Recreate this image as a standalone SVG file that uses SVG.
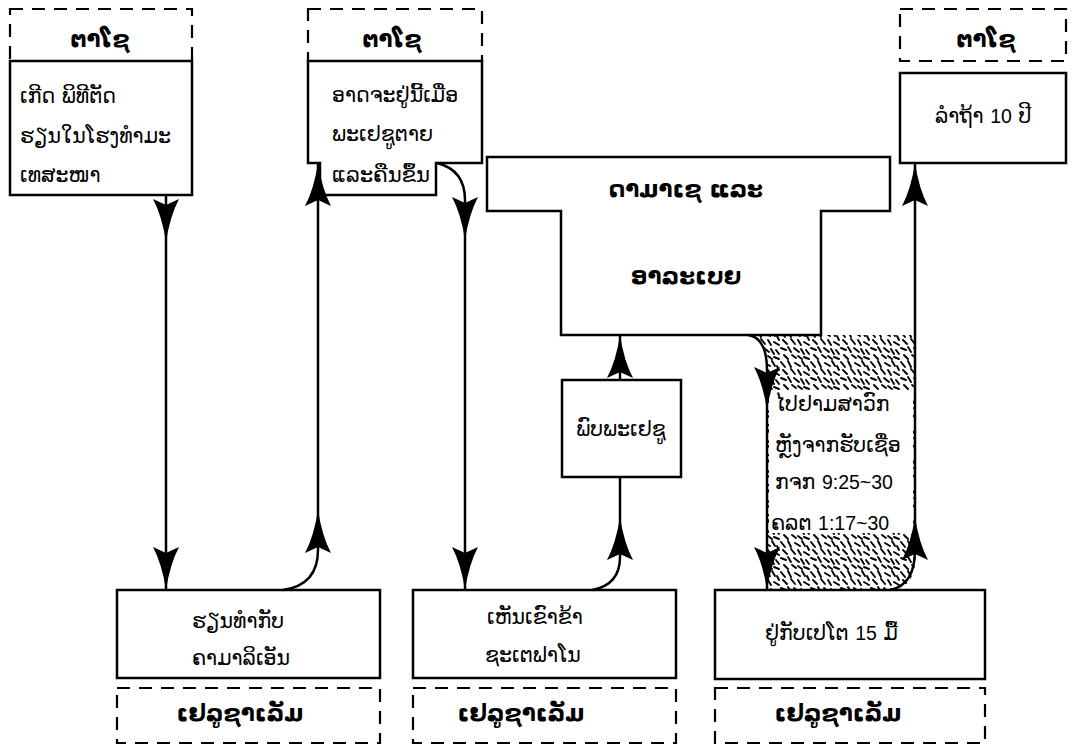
<svg xmlns="http://www.w3.org/2000/svg" xmlns:xlink="http://www.w3.org/1999/xlink" width="1072" height="750" viewBox="0 0 1072 750">
<style>
.box{fill:#fff;stroke:#000;stroke-width:2.5}
.dash{fill:#fff;stroke:#000;stroke-width:2.2;stroke-dasharray:13 9}
.t{font-family:"DejaVu Sans","Liberation Sans",sans-serif;font-size:20.5px;fill:#000}
.b{font-family:"DejaVu Sans","Liberation Sans",sans-serif;font-size:23px;font-weight:bold;fill:#000}
.d{font-family:"Liberation Sans",Arial,sans-serif;font-size:19.5px}
.m{text-anchor:middle}
.ln{fill:none;stroke:#000;stroke-width:2.5}
</style>
<defs>
<path id="ah" d="M0,0 Q-4,-26 -13,-43 L0,-37 L13,-43 Q4,-26 0,0 Z" fill="#000"/>
<pattern id="tex" width="30" height="30" patternUnits="userSpaceOnUse">
<path d="M1 2 l4 5 M8 1 l3 6 M15 3 l5 3 M22 1 l3 5 M27 6 l2 4 M3 10 l4 4 M11 9 l4 5 M18 10 l3 5 M24 12 l5 3 M1 18 l5 2 M8 17 l3 5 M14 18 l5 4 M21 19 l3 5 M26 20 l3 4 M4 25 l4 4 M12 25 l4 3 M18 26 l4 3 M24 27 l5 2" stroke="#000" stroke-width="1.9" fill="none" stroke-linecap="round"/>
</pattern>
</defs>
<rect width="1072" height="750" fill="#fff"/>

<g id="texture">
<path d="M748,335 Q767,337 767,365 L767,590 L890,590 Q915,588 915,560 L915,335 Z" fill="url(#tex)"/>
<rect x="769" y="390" width="144" height="143" fill="#fff"/>
</g>

<g id="node-taiso1">
<rect class="dash" x="10" y="9" width="182" height="52"/>
<text class="b m" x="100" y="47">ຕາໂຊ</text>
<rect class="box" x="10" y="61" width="182" height="134"/>
<text class="t" x="20" y="103">ເກີດ ພິທີຕັດ</text>
<text class="t" x="20" y="143">ຮຽນໃນໂຮງທຳມະ</text>
<text class="t" x="20" y="182">ເທສະໜາ</text>
</g>

<g id="node-taiso2">
<rect class="dash" x="308" y="9" width="174" height="52"/>
<text class="b m" x="392" y="47">ຕາໂຊ</text>
<polygon class="box" points="308,61 482,61 482,163 436,163 436,195 320,195 320,163 308,163"/>
<text class="t" x="332" y="102">ອາດຈະຢູ່ນີ້ເມື່ອ</text>
<text class="t" x="332" y="141">ພະເຢຊູຕາຍ</text>
<text class="t" x="332" y="182" textLength="98" lengthAdjust="spacingAndGlyphs">ແລະຄືນຂຶ້ນ</text>
</g>

<g id="node-taiso3">
<rect class="dash" x="900" y="9" width="166" height="52"/>
<text class="b m" x="986" y="47">ຕາໂຊ</text>
<rect class="box" x="900" y="73" width="166" height="90"/>
<text class="t" x="935" y="123">ລຳຖ້າ <tspan class="d">10</tspan> ປີ</text>
</g>

<g id="node-damascus">
<polygon class="box" points="487,157 890,157 890,211 821,211 821,335 561,335 561,211 487,211"/>
<text class="b m" x="686" y="197">ດາມາເຊ ແລະ</text>
<text class="b m" x="686" y="284">ອາລະເບຍ</text>
</g>

<g id="node-meet">
<rect class="box" x="562" y="380" width="119" height="97"/>
<text class="t m" x="621" y="436">ພົບພະເຢຊູ</text>
</g>

<g id="node-visit">
<text class="t" x="775" y="411">ໄປຢາມສາວົກ</text>
<text class="t" x="775" y="452">ຫຼັງຈາກຮັບເຊື່ອ</text>
<text class="t" x="775" y="489">ກຈກ <tspan class="d">9:25~30</tspan></text>
<text class="t" x="771" y="530">ຄລຕ <tspan class="d">1:17~30</tspan></text>
</g>

<g id="node-jer1">
<rect class="box" x="117" y="590" width="263" height="88"/>
<text class="t" x="192" y="628">ຮຽນທຳກັບ</text>
<text class="t" x="192" y="665">ຄາມາລິເອັນ</text>
<rect class="dash" x="117" y="688" width="263" height="55"/>
<text class="b m" x="240" y="721">ເຢລູຊາເລັມ</text>
</g>

<g id="node-jer2">
<rect class="box" x="413" y="590" width="263" height="88"/>
<text class="t" x="487" y="624">ເຫັນເຂົາຂ້າ</text>
<text class="t" x="485" y="662">ຊະເຕຟາໂນ</text>
<rect class="dash" x="413" y="688" width="263" height="55"/>
<text class="b m" x="521" y="721">ເຢລູຊາເລັມ</text>
</g>

<g id="node-jer3">
<rect class="box" x="715" y="590" width="270" height="89"/>
<text class="t" x="765" y="640">ຢູ່ກັບເປໂຕ <tspan class="d">15</tspan> ມື້</text>
<rect class="dash" x="715" y="688" width="270" height="55"/>
<text class="b m" x="838" y="721">ເຢລູຊາເລັມ</text>
</g>

<g id="connectors">
<path class="ln" d="M166,195 L166,590"/>
<use href="#ah" transform="translate(166,242)"/>
<use href="#ah" transform="translate(166,590)"/>

<path class="ln" d="M283,590 Q318,585 318,550 L318,163"/>
<use href="#ah" transform="translate(318,510) rotate(180)"/>
<use href="#ah" transform="translate(318,163) rotate(180)"/>

<path class="ln" d="M437,163 Q465,170 465,200 L465,590"/>
<use href="#ah" transform="translate(465,240)"/>
<use href="#ah" transform="translate(465,590)"/>

<path class="ln" d="M592,590 Q620,585 620,557 L620,477"/>
<use href="#ah" transform="translate(620,517) rotate(180)"/>
<path class="ln" d="M620,380 L620,335"/>
<use href="#ah" transform="translate(620,335) rotate(180)"/>

<path class="ln" d="M748,335 Q767,338 767,370 L767,590"/>
<use href="#ah" transform="translate(767,410)"/>
<use href="#ah" transform="translate(767,590)"/>

<path class="ln" d="M890,590 Q915,585 915,550 L915,163"/>
<use href="#ah" transform="translate(915,517) rotate(180)"/>
<use href="#ah" transform="translate(915,163) rotate(180)"/>
</g>
</svg>
